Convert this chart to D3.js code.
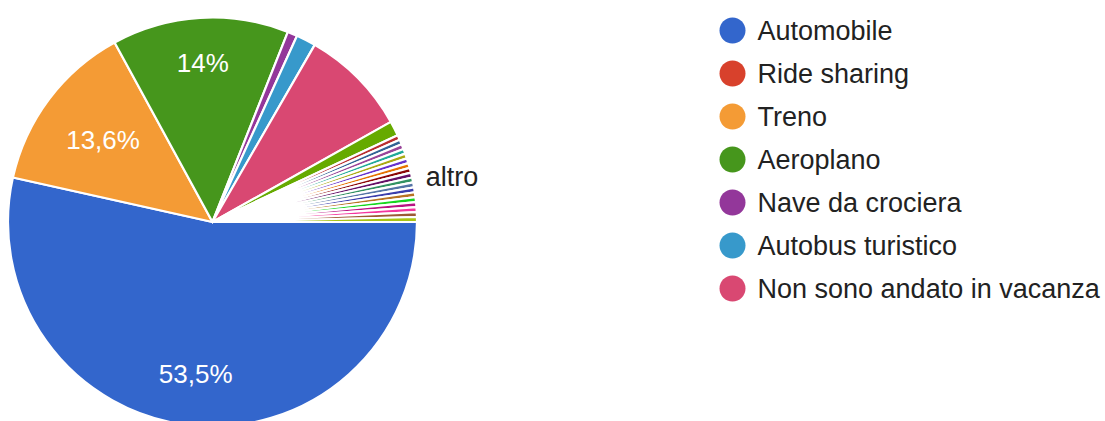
<!DOCTYPE html>
<html>
<head>
<meta charset="utf-8">
<script src="https://cdn.jsdelivr.net/npm/d3@7"></script>
<style>
  html, body { margin: 0; padding: 0; background: #fff; }
  svg { display: block; font-family: "Liberation Sans", Arial, Helvetica, sans-serif; }
</style>
</head>
<body>
<svg id="chart" width="1105" height="421"></svg>
<script>
// Answer options shown in the legend, with response counts
const categories = ["Automobile", "Ride sharing", "Treno", "Aeroplano", "Nave da crociera", "Autobus turistico", "Non sono andato in vacanza"];
const counts = [138, 0, 35, 36, 2, 4, 22];
const categoryColors = ["#3366cc", "#d8412c", "#f49b35", "#46961c", "#93379a", "#3799cb", "#d94872"];

// Free-text "altro" answers, one slice each
const otherCounts = [3, 1, 1, 1, 1, 1, 1, 1, 1, 1, 1, 1, 1, 1, 1, 1, 1, 1, 1];
const otherColors = ["#66aa00", "#b82e2e", "#316395", "#994499", "#22aa99", "#aaaa11", "#6633cc", "#e67300",
                     "#8b0707", "#651067", "#329262", "#5574a6", "#3b3eac", "#b77322", "#16d620", "#b91383",
                     "#f4359e", "#9c5935", "#a9c413"];
const otherLabel = "altro";

// Layout
const cx = 212.5, cy = 222, radius = 204.5;
const labelRadius = { "Automobile": 0.75, "Treno": 0.67, "Aeroplano": 0.78 };
const legendX = 732.5, legendY = 30.5, legendStep = 43, legendR = 13;

const slices = categories.map((c, i) => ({ name: c, value: counts[i], color: categoryColors[i], other: false }))
  .concat(otherCounts.map((v, i) => ({ name: otherLabel, value: v, color: otherColors[i], other: true })));
const total = d3.sum(slices, d => d.value);

const locale = d3.formatLocale({ decimal: ",", thousands: ".", grouping: [3], currency: ["€", ""] });
const pct = v => locale.format(".1f")(v * 100).replace(/,0$/, "") + "%";

const svg = d3.select("#chart");
const g = svg.append("g").attr("transform", `translate(${cx},${cy})`);

const pie = d3.pie().sort(null).value(d => d.value)
  .startAngle(Math.PI / 2).endAngle(Math.PI / 2 + 2 * Math.PI);
const arcs = pie(slices);
const arc = d3.arc().innerRadius(0).outerRadius(radius);

g.selectAll("path.slice")
  .data(arcs.filter(a => a.data.value > 0))
  .join("path")
  .attr("class", "slice")
  .attr("d", arc)
  .attr("fill", d => d.data.color)
  .attr("stroke", "#fff")
  .attr("stroke-width", 2.2)
  .attr("stroke-linejoin", "round");

// Percentage labels inside the large slices
g.selectAll("text.pct")
  .data(arcs.filter(a => labelRadius[a.data.name] !== undefined))
  .join("text")
  .attr("class", "pct")
  .attr("x", d => Math.sin((d.startAngle + d.endAngle) / 2) * radius * labelRadius[d.data.name])
  .attr("y", d => -Math.cos((d.startAngle + d.endAngle) / 2) * radius * labelRadius[d.data.name])
  .attr("text-anchor", "middle")
  .attr("dominant-baseline", "central")
  .attr("fill", "#fff")
  .attr("font-size", 26)
  .text(d => pct(d.data.value / total));

// Label for the group of "altro" slices
const otherArcs = arcs.filter(a => a.data.other);
const otherMid = (otherArcs[0].startAngle + otherArcs[otherArcs.length - 1].endAngle) / 2;
g.append("text")
  .attr("x", Math.sin(otherMid) * (radius + 16))
  .attr("y", -Math.cos(otherMid) * (radius + 16) + 11)
  .attr("text-anchor", "start")
  .attr("dominant-baseline", "central")
  .attr("fill", "#222")
  .attr("font-size", 27)
  .text(otherLabel);

// Legend
const legend = svg.append("g");
const items = legend.selectAll("g.item")
  .data(categories)
  .join("g")
  .attr("class", "item")
  .attr("transform", (d, i) => `translate(${legendX},${legendY + i * legendStep})`);
items.append("circle")
  .attr("r", legendR)
  .attr("fill", (d, i) => categoryColors[i]);
items.append("text")
  .attr("x", 25)
  .attr("dominant-baseline", "central")
  .attr("fill", "#222")
  .attr("font-size", 27)
  .text(d => d);
</script>
</body>
</html>
